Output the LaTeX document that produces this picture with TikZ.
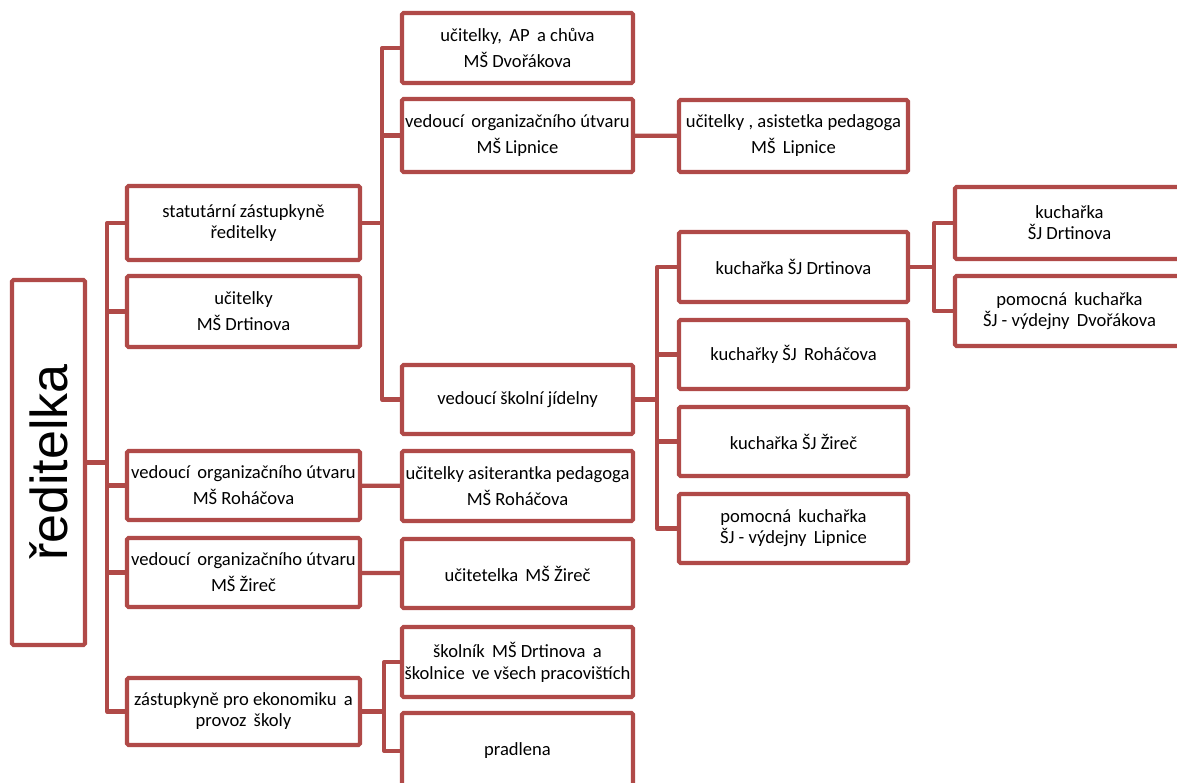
\documentclass[tikz,border=0pt]{standalone}
\usepackage{fontspec}
\setmainfont{Carlito}
\newfontfamily\bossfont{Liberation Sans}
\usetikzlibrary{positioning}
\definecolor{boxred}{RGB}{176,74,72}

\tikzset{
  unit/.style={draw=boxred, line width=4.2pt, fill=white, rounded corners=1.5pt,
    minimum width=231pt, minimum height=70pt, inner sep=1pt, align=center,
    font=\fontsize{18.6}{21}\selectfont},
  link/.style={draw=boxred, line width=4.2pt, line join=round}
}

\begin{document}
\begin{tikzpicture}[x=1pt,y=1pt,yscale=-1]
\useasboundingbox (0,0) rectangle (1177,782);

% head
\node[unit, minimum width=73pt, minimum height=365pt] (boss) at (48.5,462.5)
  {\rotatebox{90}{\bossfont\fontsize{52}{52}\selectfont ředitelka}};

% first level
\node[unit, minimum width=233pt, minimum height=74pt] (stat) at (243.5,223) {statutární zástupkyně\\ředitelky};
\node[unit, minimum width=233pt, minimum height=71pt] (ucD) at (243.5,311.5) {učitelky\\[5pt]MŠ Drtinova};
\node[unit, minimum width=233pt, minimum height=69pt] (vedR) at (243.5,485.5) {vedoucí \,organizačního útvaru\\[5pt]MŠ Roháčova};
\node[unit, minimum width=233pt, minimum height=69pt] (vedZ) at (243.5,572.5) {vedoucí \,organizačního útvaru\\[5pt]MŠ Žireč};
\node[unit, minimum width=233pt, minimum height=67pt] (zast) at (243.5,711.5) {zástupkyně pro ekonomiku \,a\\provoz \,školy};

% second level
\node[unit] (ucDv) at (517.5,48) {učitelky, \,AP \,a chůva\\[5pt]MŠ Dvořákova};
\node[unit, minimum height=73pt] (vedL) at (517.5,135.5) {vedoucí \,organizačního útvaru\\[5pt]MŠ Lipnice};
\node[unit, minimum height=69pt] (vedJ) at (517.5,399.5) {vedoucí školní jídelny};
\node[unit] (ucR) at (517.5,486) {učitelky asiterantka pedagoga\\[5pt]MŠ Roháčova};
\node[unit, minimum height=69pt] (ucZ) at (517.5,573.5) {učitetelka \,MŠ Žireč};
\node[unit] (skol) at (517.5,662) {školník \,MŠ Drtinova \,a\\[1pt]školnice \,ve všech pracovištích};
\node[unit, minimum height=76pt] (pradl) at (517.5,751) {pradlena};

% third level
\node[unit, minimum width=229pt, minimum height=72pt] (ucL) at (793.5,136) {učitelky , asistetka pedagoga\\[5pt]MŠ \,Lipnice};
\node[unit, minimum width=229pt] (kD) at (793.5,267) {kuchařka ŠJ Drtinova};
\node[unit, minimum width=229pt, minimum height=69pt] (kR) at (793.5,354.5) {kuchařky ŠJ \,Roháčova};
\node[unit, minimum width=229pt, minimum height=69pt] (kZ) at (793.5,441.5) {kuchařka ŠJ Žireč};
\node[unit, minimum width=229pt, minimum height=69pt] (pkL) at (793.5,528.5) {pomocná \,kuchařka\\ŠJ - výdejny \,Lipnice};

% fourth level
\node[unit, minimum width=229pt, minimum height=72pt] (kD2) at (1069.5,223) {kuchařka\\ŠJ Drtinova};
\node[unit, minimum width=229pt] (pkD) at (1069.5,311) {pomocná \,kuchařka\\ŠJ - výdejny \,Dvořákova};

% connectors
\draw[link] (boss.east) -- ++(20,0) coordinate (b1);
\foreach \n in {stat,ucD,vedR,vedZ,zast}
  \draw[link] (b1) |- (\n.west);
\draw[link] (stat.east) -- ++(20,0) coordinate (b2);
\foreach \n in {ucDv,vedL,vedJ}
  \draw[link] (b2) |- (\n.west);
\draw[link] (vedL) -- (ucL);
\draw[link] (vedR) -- (ucR);
\draw[link] (vedZ) -- (ucZ);
\draw[link] (vedJ.east) -- ++(22,0) coordinate (b3);
\foreach \n in {kD,kR,kZ,pkL}
  \draw[link] (b3) |- (\n.west);
\draw[link] (kD.east) -- ++(24,0) coordinate (b4);
\foreach \n in {kD2,pkD}
  \draw[link] (b4) |- (\n.west);
\draw[link] (zast.east) -- ++(22,0) coordinate (b5);
\foreach \n in {skol,pradl}
  \draw[link] (b5) |- (\n.west);

\end{tikzpicture}
\end{document}
